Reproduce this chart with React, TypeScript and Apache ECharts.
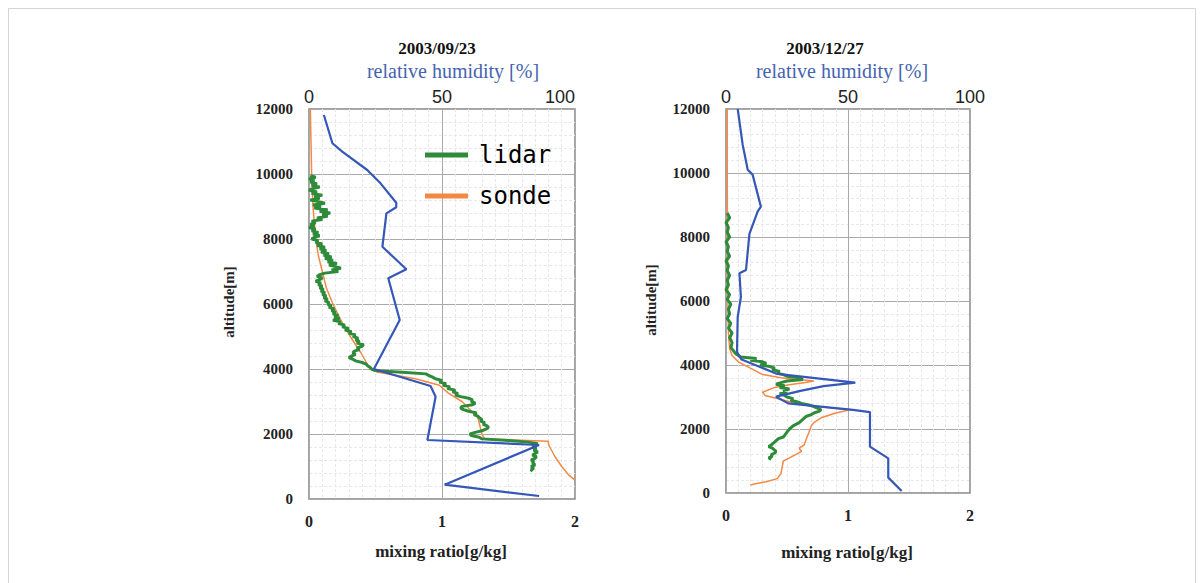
import React, { useEffect, useRef } from "react";
import * as echarts from "echarts";

// ---- titles / labels ----
const leftDate = "2003/09/23";
const rightDate = "2003/12/27";
const rhTitle = "relative humidity [%]";
const xName = "mixing ratio[g/kg]";
const yName = "altitude[m]";
const legendNames = ["lidar", "sonde"];

// ---- 2003/09/23: [mixing ratio g/kg, altitude m] ----
const leftLidar: [number, number][] = [
  [0.01, 9950], [0.05, 9900], [0.0, 9850], [0.04, 9800], [0.01, 9750], [0.06, 9700], [0.02, 9650],
  [0.08, 9600], [0.03, 9550], [0.0, 9500], [0.06, 9450], [0.02, 9400], [0.1, 9350], [0.04, 9300],
  [0.08, 9250], [0.01, 9200], [0.07, 9150], [0.12, 9100], [0.03, 9050], [0.09, 9000], [0.04, 8950],
  [0.14, 8900], [0.08, 8850], [0.16, 8800], [0.1, 8750], [0.14, 8700], [0.06, 8650], [0.1, 8600],
  [0.02, 8550], [0.05, 8500], [0.01, 8450], [0.04, 8400], [0.0, 8350], [0.05, 8300], [0.02, 8250],
  [0.07, 8200], [0.03, 8150], [0.08, 8100], [0.04, 8050], [0.02, 8000], [0.07, 7950], [0.05, 7900],
  [0.1, 7850], [0.06, 7800], [0.12, 7750], [0.08, 7700], [0.13, 7650], [0.09, 7600], [0.15, 7550],
  [0.11, 7500], [0.17, 7450], [0.12, 7400], [0.18, 7350], [0.14, 7300], [0.21, 7250], [0.15, 7200],
  [0.2, 7150], [0.24, 7100], [0.17, 7050], [0.22, 7000], [0.12, 6950], [0.08, 6900], [0.06, 6850],
  [0.1, 6800], [0.08, 6750], [0.05, 6700], [0.09, 6650], [0.07, 6600], [0.1, 6550], [0.08, 6500],
  [0.11, 6450], [0.09, 6400], [0.12, 6350], [0.1, 6300], [0.13, 6250], [0.11, 6200], [0.14, 6150],
  [0.12, 6100], [0.15, 6050], [0.14, 6000], [0.17, 5950], [0.15, 5900], [0.19, 5850], [0.17, 5800],
  [0.2, 5750], [0.18, 5700], [0.22, 5650], [0.19, 5600], [0.23, 5550], [0.18, 5500], [0.24, 5450],
  [0.22, 5400], [0.27, 5350], [0.25, 5300], [0.3, 5250], [0.27, 5200], [0.32, 5150], [0.3, 5100],
  [0.35, 5050], [0.33, 5000], [0.37, 4950], [0.35, 4900], [0.38, 4850], [0.36, 4800], [0.41, 4750],
  [0.4, 4700], [0.36, 4650], [0.38, 4600], [0.34, 4550], [0.33, 4500], [0.35, 4450], [0.32, 4400],
  [0.3, 4350], [0.33, 4300], [0.35, 4250], [0.4, 4200], [0.43, 4150], [0.44, 4100], [0.46, 4050],
  [0.47, 4000], [0.5, 3950], [0.7, 3900], [0.88, 3850], [0.9, 3800], [0.93, 3750], [0.95, 3700],
  [1.0, 3650], [0.98, 3600], [1.03, 3550], [1.01, 3500], [1.06, 3450], [1.04, 3400], [1.1, 3350],
  [1.08, 3300], [1.12, 3250], [1.1, 3200], [1.14, 3150], [1.2, 3100], [1.23, 3050], [1.22, 3000],
  [1.25, 2950], [1.23, 2900], [1.15, 2850], [1.14, 2800], [1.16, 2750], [1.2, 2700], [1.26, 2650],
  [1.24, 2600], [1.27, 2550], [1.28, 2500], [1.3, 2450], [1.29, 2400], [1.32, 2350], [1.31, 2300],
  [1.34, 2250], [1.35, 2200], [1.33, 2150], [1.3, 2100], [1.25, 2050], [1.21, 2000], [1.22, 1950],
  [1.28, 1900], [1.3, 1850], [1.5, 1800], [1.65, 1750], [1.72, 1700], [1.7, 1650], [1.68, 1600],
  [1.71, 1550], [1.69, 1500], [1.72, 1450], [1.7, 1400], [1.68, 1350], [1.71, 1300], [1.7, 1250],
  [1.67, 1200], [1.69, 1150], [1.68, 1100], [1.7, 1050], [1.67, 1000], [1.69, 950], [1.67, 900],
  [1.68, 850],
];
const leftSonde: [number, number][] = [
  [0.01, 12000], [0.015, 11000], [0.02, 10000], [0.025, 9500], [0.03, 9000], [0.04, 8500],
  [0.05, 8000], [0.07, 7500], [0.1, 7000], [0.13, 6500], [0.18, 6000], [0.24, 5500], [0.31, 5000],
  [0.39, 4500], [0.46, 4000], [0.52, 3900], [0.8, 3700], [0.98, 3500], [1.05, 3250], [1.15, 3000],
  [1.27, 2500], [1.3, 2000], [1.32, 1850], [1.8, 1780], [1.8, 1700], [1.81, 1600], [1.85, 1300],
  [1.9, 1000], [1.95, 750], [2.0, 580],
];
// [relative humidity %, altitude m]
const leftRH: [number, number][] = [
  [5.6, 11815], [8.8, 10945], [12.5, 10687], [21.9, 10123], [26.9, 9713], [32.8, 9117],
  [32.8, 8975], [29.1, 8790], [27.6, 7763], [36.6, 7067], [29.8, 6790], [34.1, 5508],
  [24.4, 4000], [45.7, 3477], [47.6, 3148], [44.5, 1815], [86.5, 1662], [51, 440], [86.5, 92],
];

// ---- 2003/12/27 ----
const rightLidar: [number, number][] = [
  [0.01, 8750], [0.03, 8600], [0.0, 8450], [0.02, 8300], [0.01, 8150], [0.03, 8000], [0.0, 7850],
  [0.02, 7700], [0.01, 7550], [0.03, 7400], [0.0, 7250], [0.02, 7100], [0.01, 6950], [0.03, 6800],
  [0.01, 6650], [0.02, 6500], [0.0, 6350], [0.03, 6200], [0.01, 6050], [0.04, 5900], [0.02, 5750],
  [0.03, 5600], [0.01, 5450], [0.04, 5300], [0.02, 5150], [0.05, 5000], [0.03, 4850], [0.05, 4700],
  [0.04, 4550], [0.06, 4450], [0.08, 4350], [0.12, 4250], [0.25, 4200], [0.2, 4150], [0.3, 4100],
  [0.33, 4050], [0.28, 4000], [0.36, 3950], [0.4, 3900], [0.38, 3850], [0.44, 3800], [0.42, 3750],
  [0.47, 3700], [0.5, 3650], [0.6, 3600], [0.63, 3550], [0.5, 3500], [0.45, 3450], [0.41, 3400],
  [0.48, 3350], [0.44, 3300], [0.52, 3250], [0.47, 3200], [0.5, 3150], [0.44, 3100], [0.48, 3050],
  [0.5, 3000], [0.55, 2950], [0.53, 2900], [0.58, 2850], [0.62, 2800], [0.68, 2750], [0.72, 2700],
  [0.75, 2650], [0.78, 2600], [0.76, 2550], [0.72, 2500], [0.7, 2450], [0.66, 2400], [0.63, 2300],
  [0.6, 2200], [0.55, 2100], [0.52, 2000], [0.5, 1900], [0.48, 1800], [0.47, 1750], [0.43, 1700],
  [0.4, 1600], [0.37, 1500], [0.35, 1450], [0.38, 1400], [0.41, 1300], [0.4, 1250], [0.37, 1200],
  [0.38, 1150], [0.35, 1100], [0.37, 1050],
];
const rightSonde: [number, number][] = [
  [0.01, 12000], [0.01, 10000], [0.012, 8000], [0.015, 6000], [0.02, 5000], [0.03, 4500],
  [0.05, 4300], [0.1, 4100], [0.2, 3900], [0.3, 3700], [0.45, 3600], [0.72, 3500], [0.65, 3450],
  [0.52, 3380], [0.4, 3300], [0.3, 3150], [0.32, 3050], [0.42, 2950], [0.58, 2800], [0.75, 2700],
  [1.02, 2600], [0.9, 2500], [0.78, 2350], [0.72, 2200], [0.7, 2100], [0.68, 1900], [0.66, 1700],
  [0.64, 1500], [0.6, 1400], [0.62, 1300], [0.52, 1100], [0.47, 1000], [0.46, 800], [0.45, 600],
  [0.42, 450], [0.33, 350], [0.25, 300], [0.2, 250],
];
const rightRH: [number, number][] = [
  [4.8, 12000], [6.8, 10900], [8.9, 10100], [10.9, 9950], [14.3, 8950], [13.0, 8800], [9.6, 8100],
  [8.2, 6970], [5.5, 6870], [6.1, 6130], [4.8, 5500], [4.5, 4400], [6.4, 4170], [21, 3720],
  [53, 3450], [40, 3340], [31, 3200], [20.5, 3010], [25.5, 2800], [52, 2600], [59, 2530],
  [59, 1450], [66.5, 1080], [66.5, 480], [72, 60],
];

const GREEN = "#2e8b3a";
const ORANGE = "#f28a45";
const BLUE = "#3558b8";
const SERIF = "'Liberation Serif', 'Times New Roman', serif";
const SANS = "'Liberation Sans', Arial, sans-serif";

export default function App() {
  const ref = useRef<HTMLDivElement>(null);
  useEffect(() => {
    if (!ref.current) return;
    const chart = echarts.init(ref.current, undefined, { renderer: "svg" });

    const grids = [
      { left: 309, top: 109, width: 266, height: 390 },
      { left: 726, top: 109, width: 244, height: 384 },
    ];

    const bottomAxis = (gi: number) => ({
      type: "value",
      gridIndex: gi,
      position: "bottom",
      min: 0,
      max: 2,
      interval: 1,
      axisLine: { show: false },
      axisTick: { show: false },
      axisLabel: { margin: 14, fontFamily: SERIF, fontWeight: "bold", fontSize: 16, color: "#222" },
      splitLine: { show: true, lineStyle: { color: "#a9a9a9", width: 1 } },
      minorTick: { show: false, splitNumber: 10 },
      minorSplitLine: { show: true, lineStyle: { color: "#e8e8e8", width: 1, type: [3, 2] } },
    });
    const topAxis = (gi: number, alignMax: boolean) => ({
      type: "value",
      gridIndex: gi,
      position: "top",
      min: 0,
      max: 100,
      interval: 50,
      axisLine: { show: false },
      axisTick: { show: false },
      axisLabel: {
        margin: 3,
        fontFamily: SANS,
        fontSize: 18,
        color: "#222",
        alignMaxLabel: alignMax ? "right" : "center",
      },
      splitLine: { show: false },
    });
    const yAxis = (gi: number) => ({
      type: "value",
      gridIndex: gi,
      min: 0,
      max: 12000,
      interval: 2000,
      axisLine: { show: false },
      axisTick: { show: false },
      axisLabel: {
        margin: 16,
        fontFamily: SERIF,
        fontWeight: "bold",
        fontSize: 15,
        color: "#222",
        formatter: (v: number) => String(v),
      },
      splitLine: { show: true, lineStyle: { color: "#a9a9a9", width: 1 } },
      minorTick: { show: false, splitNumber: 5 },
      minorSplitLine: { show: true, lineStyle: { color: "#e8e8e8", width: 1, type: [3, 2] } },
    });

    const line = (name: string, data: [number, number][], xi: number, yi: number, color: string, w: number, z: number) => ({
      name,
      type: "line",
      xAxisIndex: xi,
      yAxisIndex: yi,
      data,
      showSymbol: false,
      symbol: "none",
      lineStyle: { color, width: w },
      itemStyle: { color },
      z,
      silent: true,
    });

    const textEl = (text: string, x: number, y: number, style: any, rotation = 0) => ({
      type: "text",
      x,
      y,
      rotation,
      silent: true,
      style: { text, align: "center", verticalAlign: "middle", ...style },
    });

    const titleStyle = { fontFamily: SERIF, fontWeight: "bold", fontSize: 17, fill: "#111" };
    const rhStyle = { fontFamily: SERIF, fontSize: 20, fill: "#4564b0" };
    const nameStyle = { fontFamily: SERIF, fontWeight: "bold", fontSize: 17, fill: "#222" };
    const yNameStyle = { fontFamily: SERIF, fontWeight: "bold", fontSize: 15, fill: "#222" };

    chart.setOption({
      animation: false,
      backgroundColor: "#fff",
      grid: grids.map((g) => ({ ...g, show: true, borderColor: "#858585", borderWidth: 1.5, backgroundColor: "transparent" })),
      xAxis: [bottomAxis(0), topAxis(0, true), bottomAxis(1), topAxis(1, false)],
      yAxis: [yAxis(0), yAxis(1)],
      legend: {
        data: legendNames,
        orient: "vertical",
        left: 420,
        top: 136,
        icon: "rect",
        itemWidth: 43,
        itemHeight: 5,
        itemGap: 13,
        selectedMode: false,
        textStyle: {
          color: "inherit",
          fontFamily: "'DejaVu Sans Mono', 'Liberation Mono', monospace",
          fontSize: 24,
          lineHeight: 28,
          padding: [0, 0, 0, 6],
        },
      },
      series: [
        line("sonde", leftSonde, 0, 0, ORANGE, 1.5, 2),
        line("lidar", leftLidar, 0, 0, GREEN, 3, 3),
        line("relative humidity", leftRH, 1, 0, BLUE, 2.2, 4),
        line("sonde", rightSonde, 2, 1, ORANGE, 1.5, 2),
        line("lidar", rightLidar, 2, 1, GREEN, 3, 3),
        line("relative humidity", rightRH, 3, 1, BLUE, 2.2, 4),
      ],
      graphic: [
        { type: "rect", silent: true, shape: { x: 8.5, y: 8.5, width: 1187, height: 590 }, style: { fill: "none", stroke: "#d4d4d4", lineWidth: 1 } },
        textEl(leftDate, 437, 48, titleStyle),
        textEl(rhTitle, 453, 71, rhStyle),
        textEl(rightDate, 825, 48, titleStyle),
        textEl(rhTitle, 842, 71, rhStyle),
        textEl(xName, 441, 551, nameStyle),
        textEl(xName, 847, 552, nameStyle),
        textEl(yName, 229, 302, yNameStyle, Math.PI / 2),
        textEl(yName, 651, 300, yNameStyle, Math.PI / 2),
      ],
    });
    return () => chart.dispose();
  }, []);
  return <div ref={ref} style={{ position: "absolute", left: 0, top: 0, width: 1204, height: 583 }} />;
}
